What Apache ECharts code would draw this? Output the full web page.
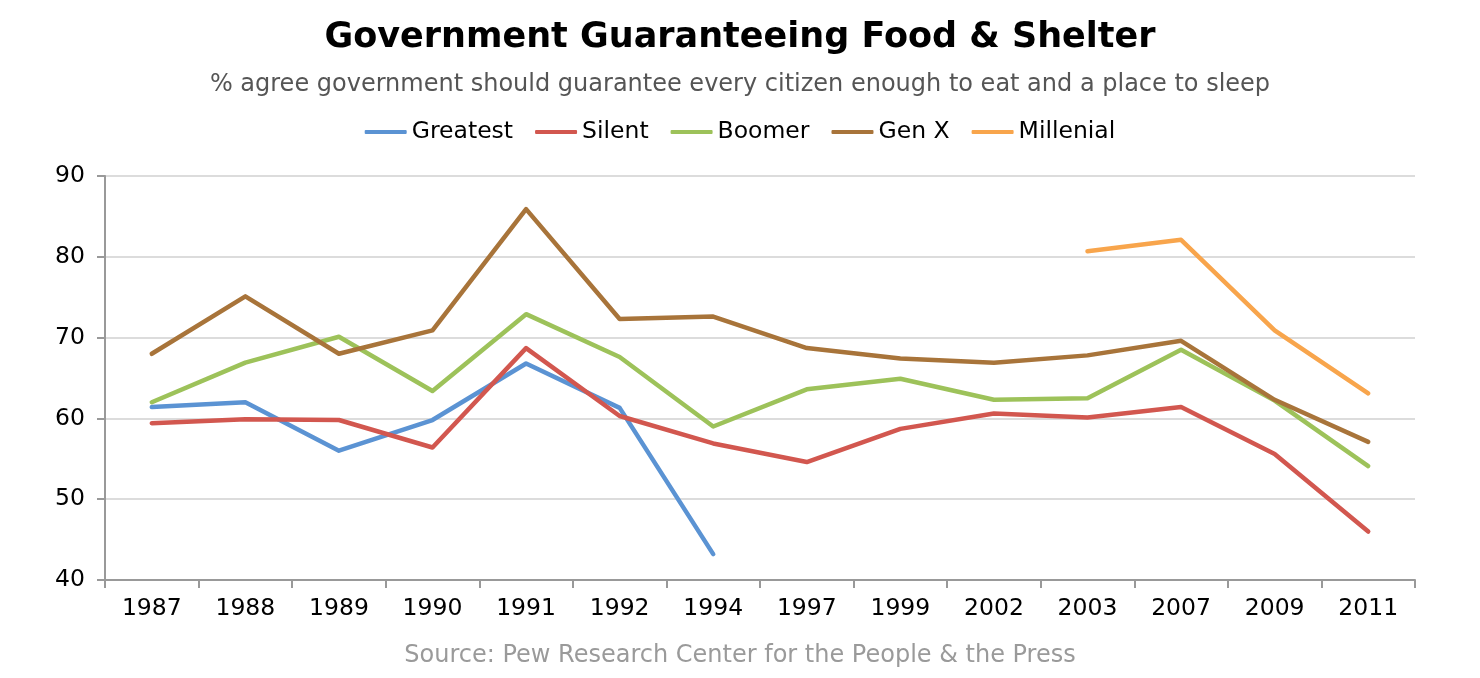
<!DOCTYPE html>
<html><head><meta charset="utf-8">
<script src="https://cdn.jsdelivr.net/npm/echarts@6/dist/echarts.min.js"></script>
<style>html,body{margin:0;padding:0;background:#fff}#c{width:1480px;height:678px}</style>
</head><body><div id="c"></div>
<script>
const years = ['1987','1988','1989','1990','1991','1992','1994','1997','1999','2002','2003','2007','2009','2011'];
const greatest = [61.4, 62.0, 56.0, 59.8, 66.8, 61.3, 43.2, null, null, null, null, null, null, null];
const silent = [59.4, 59.9, 59.8, 56.4, 68.7, 60.3, 56.9, 54.6, 58.7, 60.6, 60.1, 61.4, 55.6, 46.0];
const boomer = [62.0, 66.9, 70.1, 63.4, 72.9, 67.6, 59.0, 63.6, 64.9, 62.3, 62.5, 68.5, 62.2, 54.1];
const genx = [68.0, 75.1, 68.0, 70.9, 85.9, 72.3, 72.6, 68.7, 67.4, 66.9, 67.8, 69.6, 62.3, 57.1];
const millenial = [null, null, null, null, null, null, null, null, null, null, 80.7, 82.1, 70.9, 63.1];
const yTicks = [40, 50, 60, 70, 80, 90];

const chart = echarts.init(document.getElementById('c'));
const font = '"DejaVu Sans", "Open Sans", sans-serif';
function s(name, data, color){
  return {name, type:'line', data, symbol:'none', showSymbol:false, connectNulls:false,
    lineStyle:{width:4.5, color, cap:'round', join:'round'}, itemStyle:{color}};
}
chart.setOption({
  animation:false,
  title:[
    {text:'Government Guaranteeing Food & Shelter', left:'center', top:15,
     textStyle:{fontFamily:font, fontSize:35, fontWeight:'bold', color:'#000'}},
    {text:'% agree government should guarantee every citizen enough to eat and a place to sleep', left:'center', top:68,
     textStyle:{fontFamily:font, fontSize:24, fontWeight:'normal', color:'#555'}},
    {text:'Source: Pew Research Center for the People & the Press', left:'center', top:639,
     textStyle:{fontFamily:font, fontSize:24, fontWeight:'normal', color:'#9a9a9a'}}
  ],
  legend:{top:115, left:'center', icon:'roundRect', itemWidth:42, itemHeight:4, itemGap:22,
    textStyle:{fontFamily:font, fontSize:23.5, color:'#000', padding:[0,0,0,0]},
    data:['Greatest','Silent','Boomer','Gen X','Millenial']},
  grid:{left:105, right:65, top:176, bottom:98, containLabel:false},
  xAxis:{type:'category', data:years, boundaryGap:true,
    axisLine:{show:true, lineStyle:{color:'#999', width:2}},
    axisTick:{show:true, alignWithLabel:false, length:8, lineStyle:{color:'#999', width:2}},
    axisLabel:{fontFamily:font, fontSize:23.5, color:'#000', margin:17}},
  yAxis:{type:'value', min:40, max:90, interval:10,
    axisLine:{show:true, lineStyle:{color:'#999', width:2}},
    axisTick:{show:true, length:8, inside:false, lineStyle:{color:'#999', width:2}},
    axisLabel:{fontFamily:font, fontSize:23.5, color:'#000', margin:20,
      formatter:v=>yTicks.includes(v)?String(v):''},
    splitLine:{show:true, lineStyle:{color:'#dcdcdc', width:2}}},
  series:[
    s('Greatest', greatest, '#5B93D3'),
    s('Silent', silent, '#D2574F'),
    s('Boomer', boomer, '#9DC25A'),
    s('Gen X', genx, '#A8743A'),
    s('Millenial', millenial, '#F8A54C')
  ]
});
</script></body></html>
